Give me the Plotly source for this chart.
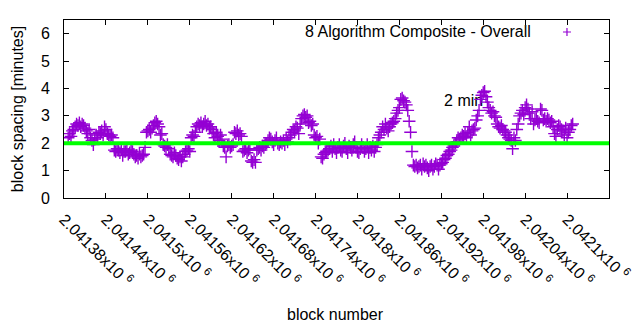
import plotly.graph_objects as go

# Per-block spacing (minutes), one sample every second block
first_block = 2041386
block_step = 2
minutes = [
    2.2, 2.35, 2.25, 2.45, 2.5, 2.6, 2.7, 2.65, 2.75, 2.6, 2.7, 2.65, 2.55,
    2.45, 2.35, 2.5, 2.2, 2.1, 1.95, 2.15, 2.3, 2.2, 2.4, 2.35, 2.45, 2.3,
    2.6, 2.5, 2.35, 2.3, 2.25, 2.3, 2.2, 1.75, 1.7, 1.8, 1.75, 1.65, 1.8,
    1.55, 1.7, 1.7, 1.75, 1.6, 1.65, 1.75, 1.7, 1.6, 1.5, 1.55, 1.45, 1.6,
    1.5, 1.55, 1.6, 1.85, 2.4, 2.45, 2.5, 2.4, 2.55, 2.65, 2.75, 2.8, 2.7,
    2.6, 2.3, 2.35, 1.95, 1.9, 1.85, 1.95, 1.8, 1.6, 1.55, 1.5, 1.65, 1.55,
    1.45, 1.4, 1.5, 1.35, 1.5, 1.6, 1.7, 1.75, 1.8, 1.7, 2.2, 2.3, 2.25, 2.4,
    2.6, 2.7, 2.65, 2.75, 2.6, 2.7, 2.8, 2.65, 2.7, 2.55, 2.6, 2.5,
    2.35, 2.2, 2.4, 2.25, 2.1, 2.3, 2.15, 1.9, 1.85, 1.5, 1.9, 1.95, 1.85,
    1.9, 1.95, 2.4, 2.35, 2.45, 2.3, 2.35, 2.25, 1.7, 1.75, 1.8, 1.65, 1.75,
    1.8, 1.35, 1.3, 1.4, 1.3, 1.75, 1.8, 1.85, 1.75, 1.9, 1.85, 1.95,
    2.0, 2.1, 2.2, 2.15, 2.05, 1.95, 2.1, 2.2, 2.0, 1.95, 2.05,
    2.0, 2.1, 1.95, 2.15, 2.05, 2.2, 2.3, 2.4, 2.5, 2.45, 2.6, 2.55, 2.35, 2.7,
    2.9, 3.0, 3.05, 2.95, 3.0, 2.75, 2.8, 2.65, 2.7, 2.3, 2.2, 2.25, 2.0, 2.15,
    1.5, 1.45, 1.6, 1.65, 1.7, 1.75,
    1.8, 1.9, 1.7, 1.95, 1.8, 1.65, 1.85, 1.95, 1.75, 1.7, 1.9, 2.0, 1.8,
    1.65, 1.9, 1.85, 1.75, 1.95, 2.05, 1.85, 1.7, 1.65, 1.8, 1.95, 1.85, 1.7,
    1.8, 1.95, 1.65, 1.85, 1.75, 1.9, 1.7, 1.85, 1.95,
    2.2, 2.3, 2.4, 2.6, 2.5, 2.7, 2.55, 2.45, 2.6, 2.7, 2.75, 2.8,
    2.9, 3.1, 3.2, 3.3, 3.6, 3.65, 3.55, 3.5, 3.4, 3.2, 2.8, 2.4,
    1.7, 1.2, 1.15, 1.2,
    1.1, 1.15, 1.2, 1.05, 1.25, 1.15, 1.2, 1.1, 1.0, 1.15, 1.2, 1.05, 1.15,
    1.25, 1.2, 1.05, 1.2,
    1.25, 1.3, 1.4, 1.45, 1.55, 1.6, 1.7, 1.75, 1.85, 1.9, 2.0, 2.05, 2.2, 2.15,
    2.2, 2.3, 2.25, 2.35, 2.2, 2.4, 2.6, 2.3, 2.45, 2.5, 2.55,
    2.85, 3.0, 3.2, 3.6, 3.75, 3.85, 3.9, 3.7,
    3.5, 3.3, 3.2, 3.1, 3.15, 3.0, 2.95, 2.7, 2.6, 2.55, 2.65, 2.5, 2.45, 2.4,
    2.3, 2.2, 2.15, 2.1, 1.8, 2.2, 2.1, 2.5, 2.7,
    3.0, 3.1, 3.2, 3.05, 3.3, 3.4, 3.25, 3.1, 2.9, 3.15,
    2.7, 2.85, 2.9, 2.8, 2.75, 3.25, 3.2, 2.85, 2.9, 2.8, 2.9, 2.85, 2.75, 2.8,
    2.6, 2.35, 2.25, 2.5, 2.65, 2.6, 2.5, 2.45, 2.3, 2.55, 2.2, 2.4, 2.5,
    2.65, 2.7,
]
blocks = list(range(first_block, first_block + block_step * len(minutes), block_step))

# Axis ticks (block number, in units of 10^6)
tick_blocks = list(range(2041380, 2042161, 60))
tick_mantissas = ["2.04138", "2.04144", "2.0415", "2.04156", "2.04162", "2.04168",
                  "2.04174", "2.0418", "2.04186", "2.04192", "2.04198", "2.04204",
                  "2.0421", "2.04216"]
tick_text = [m + "x10 <sup>6</sup>" for m in tick_mantissas]

target_minutes = 2
series_name = "8 Algorithm Composite - Overall"
target_label = "2 min"

FONT = "Liberation Sans, Arial, sans-serif"
FS = 16
PURPLE = "#9400d3"
GREEN = "#00ff00"

fig = go.Figure()

# "2 min" label sits underneath the points
fig.add_trace(go.Scatter(
    x=[2041924], y=[3.49], mode="text", text=[target_label],
    textposition="middle right",
    textfont=dict(family=FONT, size=FS, color="black"),
    hoverinfo="skip", showlegend=False,
))

fig.add_trace(go.Scatter(
    x=blocks, y=minutes, mode="markers", name=series_name,
    marker=dict(symbol="cross-thin", size=9, color=PURPLE,
                line=dict(width=1.4, color=PURPLE)),
    showlegend=False,
))

# 2-minute target line
fig.add_shape(type="line", xref="x domain", yref="y",
              x0=0, x1=1, y0=target_minutes, y1=target_minutes,
              line=dict(color=GREEN, width=4), layer="above")

# key: text to the left, sample cross to the right
fig.add_annotation(xref="paper", yref="paper", x=0.8606, y=0.9326,
                   xanchor="right", yanchor="middle", showarrow=False,
                   text=series_name,
                   font=dict(family=FONT, size=FS, color="black"))
fig.add_shape(type="path", xref="paper", yref="paper",
              xsizemode="pixel", ysizemode="pixel",
              xanchor=0.9229, yanchor=0.9326,
              path="M -4 0 L 4 0 M 0 -4 L 0 4",
              line=dict(color=PURPLE, width=1.2))

# axis titles
fig.add_annotation(xref="paper", yref="paper", x=0.499, y=-0.657,
                   xanchor="center", yanchor="middle", showarrow=False,
                   text="block number",
                   font=dict(family=FONT, size=FS, color="black"))
fig.add_annotation(xref="paper", yref="paper", x=-0.086, y=0.5,
                   xanchor="center", yanchor="middle", showarrow=False,
                   text="block spacing [minutes]", textangle=-90,
                   font=dict(family=FONT, size=FS, color="black"))

axis_common = dict(showgrid=False, zeroline=False, showline=True,
                   linecolor="black", linewidth=1, mirror="ticks",
                   ticks="inside", ticklen=5, tickcolor="black", tickwidth=1,
                   tickfont=dict(family=FONT, size=FS, color="black"),
                   automargin=False)

fig.update_xaxes(range=[2041380, 2042160], tickmode="array",
                 tickvals=tick_blocks, ticktext=tick_text, tickangle=45,
                 ticklabelstandoff=5, **axis_common)
fig.update_yaxes(range=[0, 6.5], tickmode="array",
                 tickvals=[0, 1, 2, 3, 4, 5, 6],
                 ticktext=["0", "1", "2", "3", "4", "5", "6"],
                 ticklabelstandoff=10, **axis_common)

fig.update_layout(width=640, height=330,
                  margin=dict(l=64, r=31, t=20, b=132, pad=0),
                  paper_bgcolor="white", plot_bgcolor="white",
                  showlegend=False)

fig.write_html("out.html", config={"displayModeBar": False})
